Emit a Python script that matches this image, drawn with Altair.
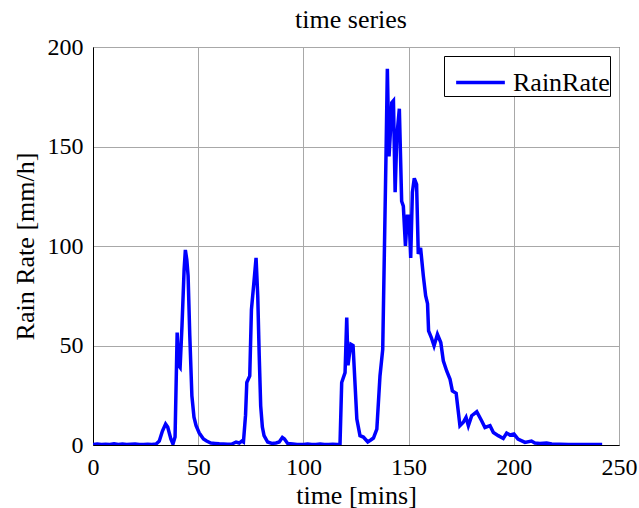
import altair as alt
import pandas as pd

time_min = [0, 2, 4, 6, 8, 10, 12, 14, 16, 18, 20, 22, 24, 26, 28, 30,
            31.5, 33, 34.5, 35.5, 37, 38, 39, 40, 40.7, 41.4, 42.3, 43.3, 43.9, 44.6, 45.2,
            46, 47, 48, 49, 50.5, 52.5, 54, 56, 58, 60, 62, 64, 66, 68, 69.5, 70.7, 71.5,
            72.5, 73.1, 74.5, 75.3, 76.5, 77.5, 78.3, 79, 79.7, 80.5, 81.3, 83, 85, 87,
            88.5, 90, 91, 92.5, 95, 97, 100, 102, 104, 106, 108, 110, 112, 114, 116, 117.4,
            118.2, 119.8, 120.6, 121.2, 121.8, 122.6, 123.6, 125.4, 126.9, 128.5, 130.6,
            132, 133.3, 134.9, 136.4, 137.7, 138.5, 139.3, 139.9, 140.7, 141.5, 142, 142.8,
            143.6, 144.4, 145.6, 146.7, 147.5, 148.5, 149.4, 150.2, 151, 151.8, 152.7,
            153.8, 154.6, 155.7, 157, 158.1, 159, 159.5, 160.8, 162.1, 163.7, 165.3, 166.5,
            168.1, 169.7, 170.8, 172.6, 174.4, 176, 177.3, 178.4, 180, 182.4, 184.7, 186.3,
            188.7, 190.3, 192.6, 195, 196.6, 198.2, 200.1, 202, 205.3, 208.4, 210, 212.4,
            215.6, 218, 222, 226, 230, 234, 238, 242]
rain_rate = [0.3, 0.5, 0.2, 0.4, 0.3, 0.6, 0.3, 0.5, 0.2, 0.4, 0.5, 0.3, 0.3, 0.4, 0.3, 0.5,
             2, 7, 10.5, 9, 3, 0.5, 4, 56.5, 40, 39, 60, 88, 98, 93, 85,
             55, 24.7, 14, 9.7, 6, 3, 2, 1, 0.8, 0.6, 0.5, 0.4, 0.5, 1.5, 1.0, 2, 1.5,
             15, 31.4, 34.7, 68, 82, 94, 75, 45, 19.7, 9, 4.7, 1.5, 0.8, 1,
             1.5, 3.8, 3, 0.8, 0.5, 0.3, 0.3, 0.5, 0.3, 0.2, 0.5, 0.3, 0.3, 0.4, 0.3, 0.3,
             31.4, 36.4, 64, 40, 45, 50.6, 50, 13, 4.7, 4, 1.5,
             2.5, 3.5, 8, 34.7, 48, 98, 148, 189, 145, 160, 172, 173,
             127, 155, 169, 122.5, 120, 100, 115, 115, 94, 127, 134,
             131, 96, 99, 85, 75, 71, 57.3, 54, 49.8, 55.6, 51.5, 42.3,
             37.2, 33, 27.2, 26, 9.7, 11.4, 13.9, 9.7, 14.7, 16.7, 12.2, 8.8,
             9.7, 6.3, 4.7, 3.3, 6, 5, 5.5, 3, 1.3, 2, 1, 0.8,
             1, 0.5, 0.4, 0.3, 0.3, 0.3, 0.3, 0.3]
series_name = ["RainRate"]
x_ticks = [0, 50, 100, 150, 200, 250]
y_ticks = [0, 50, 100, 150, 200]

df = pd.DataFrame({"t": time_min, "v": rain_rate, "s": series_name * len(time_min)})

FONT = "Liberation Serif"

chart = alt.Chart(df).mark_line(strokeWidth=3.5, clip=True).encode(
    x=alt.X("t:Q", scale=alt.Scale(domain=[0, 250], nice=False, zero=False),
            axis=alt.Axis(values=x_ticks, title="time [mins]", titleY=58,
                          titleBaseline="alphabetic", labelPadding=10)),
    y=alt.Y("v:Q", scale=alt.Scale(domain=[0, 200], nice=False),
            axis=alt.Axis(values=y_ticks, title="Rain Rate [mm/h]", titleX=-59.5,
                          titleBaseline="alphabetic", labelPadding=10)),
    color=alt.Color("s:N", scale=alt.Scale(domain=series_name, range=["#0000ff"]),
                    legend=alt.Legend(title=None, orient="none", legendX=351, legendY=9,
                                      symbolType="stroke", symbolSize=2372,
                                      symbolStrokeWidth=3.5, labelOffset=6,
                                      symbolOffset=10, padding=0,
                                      labelExpr="datum.label + ' '",
                                      strokeColor="black", fillColor="white",
                                      labelFont=FONT, labelFontSize=26,
                                      labelColor="black")),
).properties(
    width=526, height=398,
    title=alt.TitleParams("time series", font=FONT, fontSize=26, fontWeight="normal",
                          color="black", offset=2, dx=-5),
    autosize=alt.AutoSizeParams(type="none"),
    padding={"left": 93, "top": 47, "right": 20, "bottom": 63},
    background="white",
).configure_view(
    stroke="black", strokeWidth=1
).configure_axis(
    labelFont=FONT, labelFontSize=24, labelColor="black",
    titleFont=FONT, titleFontSize=26, titleFontWeight="normal", titleColor="black",
    domainColor="black", domainWidth=1, ticks=False,
    gridColor="#a8a8a8", gridWidth=1, gridOpacity=1,
    labelFlush=False, labelOverlap=False
)

chart.save("out.html", embed_options={"renderer": "svg", "actions": False})
